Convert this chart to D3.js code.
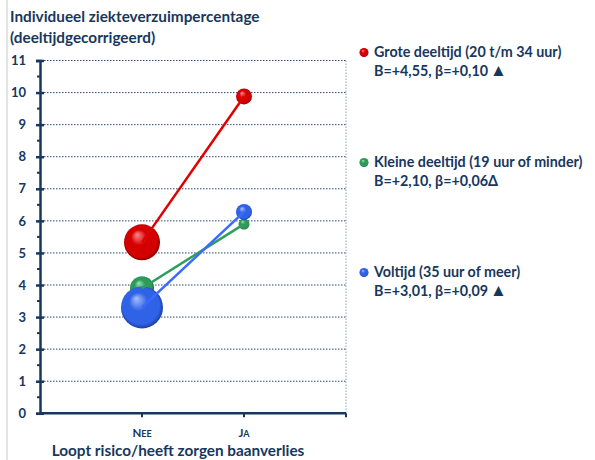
<!DOCTYPE html>
<html><head><meta charset="utf-8">
<script src="https://cdn.jsdelivr.net/npm/d3@7"></script>
<style>body{margin:0;background:#fff}svg{display:block}text{font-family:Lato,"Open Sans",sans-serif;font-weight:700;fill:#17375E}</style>
</head><body>
<svg id="c" width="595" height="460"></svg>
<script>
const categories = ["Nee", "Ja"];
const seriesNames = ["Grote deeltijd (20 t/m 34 uur)", "Kleine deeltijd (19 uur of minder)", "Voltijd (35 uur of meer)"];
const seriesStats = ["B=+4,55, β=+0,10", "B=+2,10, β=+0,06", "B=+3,01, β=+0,09"];
const seriesSig = ["▲", "Δ", "▲"];
const grote = [5.33, 9.88];
const kleine = [3.9, 5.9];
const voltijd = [3.3, 6.28];
const groteSize = [324, 64];
const kleineSize = [144, 30];
const voltijdSize = [441, 64];
const yTicks = [0,1,2,3,4,5,6,7,8,9,10,11];

const colors = [
  {base:"#D40000", light:"#FF8A8A", dark:"#6A0000", line:"#E00000"},
  {base:"#2E9A5A", light:"#96E6B4", dark:"#0E4A28", line:"#2E9E5B"},
  {base:"#2F62E6", light:"#A6C0FF", dark:"#0F2C85", line:"#3A6BFF"}
];
const series = [
  {name: seriesNames[0], stat: seriesStats[0], sig: seriesSig[0], values: grote, sizes: groteSize},
  {name: seriesNames[1], stat: seriesStats[1], sig: seriesSig[1], values: kleine, sizes: kleineSize},
  {name: seriesNames[2], stat: seriesStats[2], sig: seriesSig[2], values: voltijd, sizes: voltijdSize}
];

const svg = d3.select("#c");
const navy = "#17375E";
const L = 40, R = 346, T = 60.5, B = 413.3;
const x = d3.scaleLinear().domain([0, 3]).range([L, R]);
const y = d3.scaleLinear().domain([0, 11]).range([B, T]);
const r = d3.scaleSqrt().domain([0, 441]).range([0, 21]);

const defs = svg.append("defs");
colors.forEach((c, i) => {
  const g = defs.append("radialGradient").attr("id", "g"+i)
    .attr("cx", "50%").attr("cy", "50%").attr("r", "55%").attr("fx", "36%").attr("fy", "28%");
  g.append("stop").attr("offset", "0%").attr("stop-color", c.light);
  g.append("stop").attr("offset", "40%").attr("stop-color", c.base);
  g.append("stop").attr("offset", "80%").attr("stop-color", c.base);
  g.append("stop").attr("offset", "100%").attr("stop-color", c.dark);
});

// left frame line
svg.append("line").attr("x1", 7).attr("x2", 7).attr("y1", 0).attr("y2", 460).attr("stroke", "#c8c8c8").attr("stroke-width", 1);

// title
svg.append("text").attr("x", 10).attr("y", 22).attr("font-size", 15.3).text("Individueel ziekteverzuimpercentage");
svg.append("text").attr("x", 10).attr("y", 43).attr("font-size", 15.3).text("(deeltijdgecorrigeerd)");

// gridlines
svg.append("g").selectAll("line").data(yTicks.filter(d => d > 0)).join("line")
  .attr("x1", L + 4).attr("x2", R).attr("y1", d => y(d)).attr("y2", d => y(d))
  .attr("stroke", navy).attr("stroke-width", 1).attr("stroke-dasharray", "1.5,1.5").attr("opacity", 0.9);
svg.append("line").attr("x1", R).attr("x2", R).attr("y1", T).attr("y2", B)
  .attr("stroke", "#8aa0bd").attr("stroke-width", 1).attr("stroke-dasharray", "1.5,1.5");

// y axis
const yAxis = d3.axisLeft(y).tickValues(yTicks).tickSize(4).tickPadding(10).tickFormat(d3.format("d"));
const ya = svg.append("g").attr("transform", `translate(${L},0)`).call(yAxis);
ya.select(".domain").attr("stroke", navy).attr("stroke-width", 2.5);
ya.selectAll(".tick line").attr("stroke", navy).attr("stroke-width", 2.5).attr("x1", 4).attr("x2", -4);
ya.selectAll(".tick text").attr("font-size", 13).attr("fill", navy).attr("font-family", "Lato,sans-serif").attr("font-weight", 700);
// minor ticks
const minor = d3.range(0.5, 11, 1);
svg.append("g").selectAll("line").data(minor).join("line")
  .attr("x1", L - 3).attr("x2", L).attr("y1", d => y(d)).attr("y2", d => y(d))
  .attr("stroke", navy).attr("stroke-width", 2);

// x axis
svg.append("line").attr("x1", L).attr("x2", R).attr("y1", B).attr("y2", B).attr("stroke", navy).attr("stroke-width", 2.5);
svg.append("g").selectAll("line").data([1, 2, 3]).join("line")
  .attr("x1", d => x(d)).attr("x2", d => x(d)).attr("y1", B).attr("y2", B + 4)
  .attr("stroke", navy).attr("stroke-width", 2);
const xl = svg.append("g").selectAll("text").data(categories).join("text")
  .attr("x", (d, i) => x(i + 1)).attr("y", 437).attr("text-anchor", "middle");
xl.each(function(d) {
  const t = d3.select(this);
  t.append("tspan").attr("font-size", 11.5).text(d[0].toUpperCase());
  t.append("tspan").attr("font-size", 9).text(d.slice(1).toUpperCase());
});
svg.append("text").attr("x", 178).attr("y", 456).attr("text-anchor", "middle").attr("font-size", 15.3)
  .text("Loopt risico/heeft zorgen baanverlies");

// bubbles
series.forEach((s, i) => {
  svg.append("g").selectAll("circle").data(s.values).join("circle")
    .attr("cx", (d, j) => x(j + 1)).attr("cy", d => y(d)).attr("r", (d, j) => r(s.sizes[j]))
    .attr("fill", `url(#g${i})`);
});
// lines
const line = d3.line().x((d, j) => x(j + 1)).y(d => y(d));
series.forEach((s, i) => {
  svg.append("path").datum(s.values).attr("d", line).attr("fill", "none")
    .attr("stroke", colors[i].line).attr("stroke-width", 2.5);
});

// legend
const legY = [57, 167, 277];
series.forEach((s, i) => {
  const g = svg.append("g");
  g.append("circle").attr("cx", 364).attr("cy", legY[i] - 4.5).attr("r", 4.5).attr("fill", `url(#g${i})`);
  g.append("text").attr("x", 374).attr("y", legY[i]).attr("font-size", 14.3).text(s.name);
  const t2 = g.append("text").attr("x", 374).attr("y", legY[i] + 19).attr("font-size", 14.3);
  t2.append("tspan").text(s.stat);
  t2.append("tspan").attr("font-size", s.sig === "▲" ? 17 : 14.3).attr("dx", s.sig === "▲" ? 2 : 0).text(s.sig);
});
</script>
</body></html>
